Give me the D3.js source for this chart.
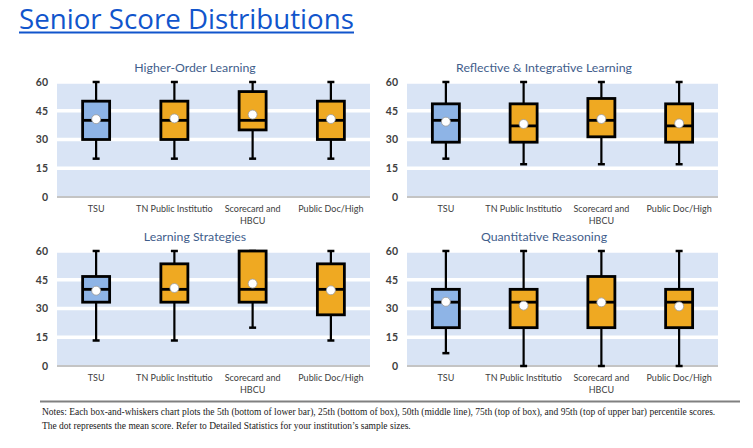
<!DOCTYPE html>
<html>
<head>
<meta charset="utf-8">
<script src="https://cdn.jsdelivr.net/npm/d3@7"></script>
<style>
  html, body { margin: 0; padding: 0; background: #ffffff; }
  svg { display: block; }
</style>
</head>
<body>
<svg id="chart" width="753" height="448"></svg>
<script>
// ---------- DATA ----------
const pageTitle = "Senior Score Distributions";
const panelTitles = ["Higher-Order Learning", "Reflective & Integrative Learning", "Learning Strategies", "Quantitative Reasoning"];
const categories = ["TSU", "TN Public Institutio", "Scorecard and\nHBCU", "Public Doc/High"];
const yTicks = [0, 15, 30, 45, 60];
// rows = panels (in panelTitles order), columns = categories
const p5 = [
  [20, 20, 20, 20],
  [20, 17.1, 17.1, 17.1],
  [13.3, 13.3, 20, 13.3],
  [6.7, 0, 0, 0]
];
const p25 = [
  [30, 30, 35, 30],
  [28.6, 28.6, 31.4, 28.6],
  [33.3, 33.3, 33.3, 26.7],
  [20, 20, 20, 20]
];
const p50 = [
  [40, 40, 40, 40],
  [40, 37.1, 40, 37.1],
  [40, 40, 40, 40],
  [33.3, 33.3, 33.3, 33.3]
];
const p75 = [
  [50, 50, 55, 50],
  [48.6, 48.6, 51.4, 48.6],
  [46.7, 53.3, 60, 53.3],
  [40, 40, 46.7, 40]
];
const p95 = [
  [60, 60, 60, 60],
  [60, 60, 60, 60],
  [60, 60, 60, 60],
  [60, 60, 60, 60]
];
const means = [
  [40.6, 41, 43, 40.7],
  [39.3, 38.1, 40.7, 38.4],
  [39.3, 40.7, 43, 39.5],
  [33.5, 31.5, 33.2, 31.1]
];
const notesLines = [
  "Notes: Each box-and-whiskers chart plots the 5th (bottom of lower bar), 25th (bottom of box), 50th (middle line), 75th (top of box), and 95th (top of upper bar) percentile scores.",
  "The dot represents the mean score. Refer to Detailed Statistics for your institution\u2019s sample sizes."
];

// ---------- LAYOUT ----------
const svg = d3.select("#chart");
svg.append("rect").attr("width", 753).attr("height", 448).attr("fill", "#ffffff");

const panels = [
  { x0: 57, x1: 370, yTop: 82, yBot: 197 },
  { x0: 407, x1: 718, yTop: 82, yBot: 197 },
  { x0: 57, x1: 370, yTop: 251, yBot: 366 },
  { x0: 407, x1: 718, yTop: 251, yBot: 366 }
];

const catFont = "Lato, 'Open Sans', sans-serif";

// Page title (link style)
const titleText = svg.append("text")
  .attr("x", 19).attr("y", 29)
  .attr("font-family", "'Open Sans', 'Noto Sans', sans-serif")
  .attr("font-size", 24)
  .attr("fill", "#1155cc")
  .text(pageTitle);
(function () {
  const w = titleText.node().getComputedTextLength();
  titleText.attr("font-size", 24 * 335 / w);
})();
svg.append("line")
  .attr("x1", 19).attr("x2", 354)
  .attr("y1", 32.5).attr("y2", 32.5)
  .attr("stroke", "#1155cc").attr("stroke-width", 1.8);

panels.forEach((p, i) => {
  const g = svg.append("g");
  const x = d3.scaleBand().domain(categories).range([p.x0, p.x1]).paddingInner(0).paddingOuter(0);
  const y = d3.scaleLinear().domain([0, 60]).range([p.yBot, p.yTop]);

  g.append("rect")
    .attr("x", p.x0).attr("y", y(60))
    .attr("width", p.x1 - p.x0).attr("height", y(0) - y(60))
    .attr("fill", "#d9e4f5");

  g.selectAll(".grid").data(yTicks.filter(t => t > 0)).enter().append("line")
    .attr("x1", p.x0).attr("x2", p.x1)
    .attr("y1", d => y(d)).attr("y2", d => y(d))
    .attr("stroke", "#ffffff").attr("stroke-width", 3.5);

  g.append("line")
    .attr("x1", p.x0).attr("x2", p.x1)
    .attr("y1", y(0)).attr("y2", y(0))
    .attr("stroke", "#c4c4c4").attr("stroke-width", 2);

  const axis = d3.axisLeft(y).tickValues(yTicks).tickSize(0).tickPadding(0).tickFormat(d3.format("d"));
  const ag = g.append("g").attr("transform", `translate(${p.x0 - 9},0)`).call(axis);
  ag.select(".domain").remove();
  ag.selectAll("text")
    .attr("font-family", catFont).attr("font-size", 10.5).attr("font-weight", 700)
    .attr("fill", "#404040");

  g.append("text")
    .attr("x", (p.x0 - 37 + p.x1) / 2).attr("y", p.yTop - 10)
    .attr("text-anchor", "middle")
    .attr("font-family", catFont).attr("font-size", 12.3)
    .attr("fill", "#3f5e8c")
    .text(panelTitles[i]);

  categories.forEach(c => {
    const t = g.append("text")
      .attr("x", x(c) + x.bandwidth() / 2).attr("y", p.yBot + 15)
      .attr("text-anchor", "middle")
      .attr("font-family", catFont).attr("font-size", 9)
      .attr("fill", "#404040");
    c.split("\n").forEach((line, k) => {
      t.append("tspan").attr("x", x(c) + x.bandwidth() / 2).attr("dy", k === 0 ? 0 : 11.5).text(line);
    });
  });

  const boxW = 27, capW = 7;
  categories.forEach((c, j) => {
    const cx = x(c) + x.bandwidth() / 2;
    const fill = j === 0 ? "#8eb4e6" : "#efa922";
    g.append("line").attr("x1", cx).attr("x2", cx)
      .attr("y1", y(p95[i][j])).attr("y2", y(p75[i][j]))
      .attr("stroke", "#000").attr("stroke-width", 2.2);
    g.append("line").attr("x1", cx).attr("x2", cx)
      .attr("y1", y(p25[i][j])).attr("y2", y(p5[i][j]))
      .attr("stroke", "#000").attr("stroke-width", 2.2);
    [p95[i][j], p5[i][j]].forEach(v => {
      g.append("line").attr("x1", cx - capW / 2).attr("x2", cx + capW / 2)
        .attr("y1", y(v)).attr("y2", y(v))
        .attr("stroke", "#000").attr("stroke-width", 2.5);
    });
    g.append("rect")
      .attr("x", cx - boxW / 2).attr("y", y(p75[i][j]))
      .attr("width", boxW).attr("height", y(p25[i][j]) - y(p75[i][j]))
      .attr("fill", fill).attr("stroke", "#000").attr("stroke-width", 2.8);
    g.append("line").attr("x1", cx - boxW / 2).attr("x2", cx + boxW / 2)
      .attr("y1", y(p50[i][j])).attr("y2", y(p50[i][j]))
      .attr("stroke", "#000").attr("stroke-width", 2.8);
    g.append("circle")
      .attr("cx", cx).attr("cy", y(means[i][j])).attr("r", 4.5)
      .attr("fill", "#ffffff").attr("stroke", "#9a9a9a").attr("stroke-width", 0.8);
  });
});

svg.append("line")
  .attr("x1", 40).attr("x2", 740).attr("y1", 401.5).attr("y2", 401.5)
  .attr("stroke", "#808080").attr("stroke-width", 2);

let notesSize = 9.5;
notesLines.forEach((line, k) => {
  const t = svg.append("text")
    .attr("x", 42).attr("y", 415 + k * 14)
    .attr("font-family", "'Liberation Serif', 'DejaVu Serif', serif")
    .attr("font-size", notesSize)
    .attr("fill", "#1a1a1a")
    .text(line);
  if (k === 0) {
    const w = t.node().getComputedTextLength();
    notesSize = 9.5 * 674 / w;
    t.attr("font-size", notesSize);
  }
});
</script>
</body>
</html>
